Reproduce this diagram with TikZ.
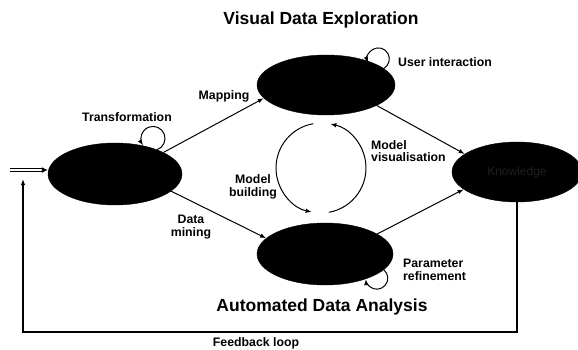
\documentclass[tikz,border=0pt]{standalone}
\usepackage{fontspec}
\setmainfont{Liberation Sans}
\usetikzlibrary{shapes.geometric,arrows.meta,calc}

\begin{document}
\begin{tikzpicture}[x=1pt,y=1pt,
			>={Latex[length=6pt,width=4.5pt]},
			state/.style={ellipse, fill=black, draw=black, inner sep=0pt},
			lbl/.style={font=\bfseries\fontsize{12.3}{12.5}\selectfont, align=center, inner sep=1pt},
			title/.style={font=\bfseries\fontsize{17.5}{19}\selectfont, inner sep=0pt},
			edge/.style={->, line width=1pt}]
			
			\useasboundingbox (0,0) rectangle (578,349);
			
			% the four states
			\node[state, minimum width=134, minimum height=62] (data) at (115,175) {};
			\node[state, minimum width=138, minimum height=60] (vis) at (326,264) {};
			\node[state, minimum width=136, minimum height=62] (auto) at (325,95) {};
			\node[state, minimum width=130, minimum height=60, text=black!88!white,
				font=\fontsize{12}{12}\selectfont] (knowl) at (517,177) {Knowledge};
			
			% titles
			\node[title] (vistitle) at (321,329) {Visual Data Exploration};
			\node[title] (autotitle) at (322,42) {Automated Data Analysis};
			
			% main connectors
			\draw[edge] (data.24) -- (vis.192);
			\draw[edge] (data.343) -- (auto.165);
			\draw[edge] (vis.338) -- (knowl.161);
			\draw[edge] (auto.21) -- (knowl.198);
			
			% self loops
			\draw[edge] (data.30) arc[start angle=-70, end angle=215, radius=12];
			\draw[edge] (vis.16) arc[start angle=-60, end angle=200, radius=11];
			\draw[edge] (auto.-15) arc[start angle=50, end angle=-175, radius=11];
			
			% model cycle
			\coordinate (mid) at (321,181);
			\draw[edge] ($(mid)+(100:45)$) arc[start angle=100, end angle=258, radius=45];
			\draw[edge] ($(mid)+(-80:45)$) arc[start angle=-80, end angle=78, radius=45];
			
			% input and feedback
			\coordinate (input) at (10,179);
			\draw[double=white, double distance=1.8pt, line width=1pt, -{Latex[length=6pt,width=6pt]}] (input) -- (data.west |- input);
			\coordinate (fbcorner) at (23,17);
			\coordinate (fbend) at (23,170);
			\draw[edge, line width=1.2pt] (knowl.south) |- (fbcorner) -- (fbend);
			
			% labels
			\node[lbl] (transl) at (127,232) {Transformation};
			\node[lbl] (mapl) at (224,253) {Mapping};
			\node[lbl, anchor=west] (userl) at (397,287) {User interaction};
			\node[lbl] (buildl) at (253,162) {Model\\building};
			\node[lbl, align=left, anchor=west] (visl) at (370,198) {Model\\visualisation};
			\node[lbl] (miningl) at (191,122) {Data\\mining};
			\node[lbl, align=left, anchor=west] (paraml) at (402,79) {Parameter\\refinement};
			\node[lbl] (fbl) at (256,6) {Feedback loop};
			
		\end{tikzpicture}
\end{document}
